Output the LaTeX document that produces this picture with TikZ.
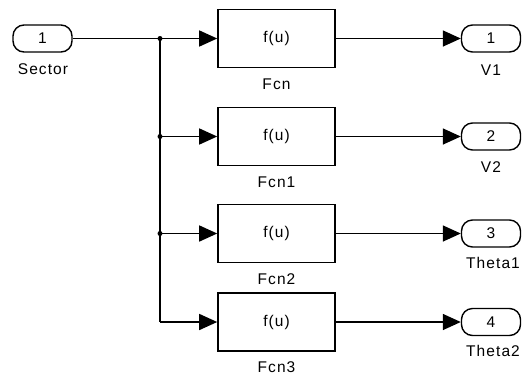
\documentclass[tikz,border=0pt]{standalone}
\usepackage{fontspec}
\setmainfont{Liberation Sans}[LetterSpace=7]
\usetikzlibrary{arrows.meta}
\begin{document}
\begin{tikzpicture}[x=1pt,y=-1pt,
  txt/.style={font=\fontsize{15.5}{18}\selectfont, inner sep=0pt},
  port/.style={txt, draw, line width=1.4pt, rounded corners=11pt, minimum width=59pt, minimum height=27pt},
  fbox/.style={txt, draw, line width=1.6pt, minimum width=117pt, minimum height=58pt},
  wire/.style={line width=1.5pt},
  sig/.style={wire, -{Triangle[length=18pt,width=16pt]}},
  jdot/.style={circle, fill, inner sep=0pt, minimum size=5pt}]
\useasboundingbox (0,0) rectangle (522,376);
% input port
\node[port] (in) at (42.5,38.5) {1};
\node[txt] (inl) at (43,69) {Sector};
% function blocks
\node[fbox] (f0) at (276.5,38.5) {f(u)};
\node[fbox] (f1) at (276.5,136.5) {f(u)};
\node[fbox] (f2) at (276.5,233.5) {f(u)};
\node[fbox] (f3) at (276.5,322) {f(u)};
\node[txt] (f0l) at (276.5,84) {Fcn};
\node[txt] (f1l) at (276.5,182) {Fcn1};
\node[txt] (f2l) at (276.5,279) {Fcn2};
\node[txt] (f3l) at (276.5,367) {Fcn3};
% output ports
\node[port] (o0) at (491,38.5) {1};
\node[port] (o1) at (491,136.5) {2};
\node[port] (o2) at (491,233.5) {3};
\node[port] (o3) at (491,322) {4};
\node[txt] (o0l) at (491,70) {V1};
\node[txt] (o1l) at (491,167) {V2};
\node[txt] (o2l) at (493,263) {Theta1};
\node[txt] (o3l) at (493,351) {Theta2};
% junctions
\coordinate (j0) at (160,38.5);
\coordinate (j1) at (160,136.5);
\coordinate (j2) at (160,233.5);
\coordinate (j3) at (160,322);
\draw[wire] (in.east) -- (j0);
\draw[wire] (j0) -- (j3);
\draw[sig] (j0) -- (f0.west);
\draw[sig] (j1) -- (f1.west);
\draw[sig] (j2) -- (f2.west);
\draw[sig] (j3) -- (f3.west);
\node[jdot] (d0) at (j0) {};
\node[jdot] (d1) at (j1) {};
\node[jdot] (d2) at (j2) {};
% outputs
\draw[sig] (f0.east) -- (o0.west);
\draw[sig] (f1.east) -- (o1.west);
\draw[sig] (f2.east) -- (o2.west);
\draw[sig] (f3.east) -- (o3.west);
\end{tikzpicture}
\end{document}
